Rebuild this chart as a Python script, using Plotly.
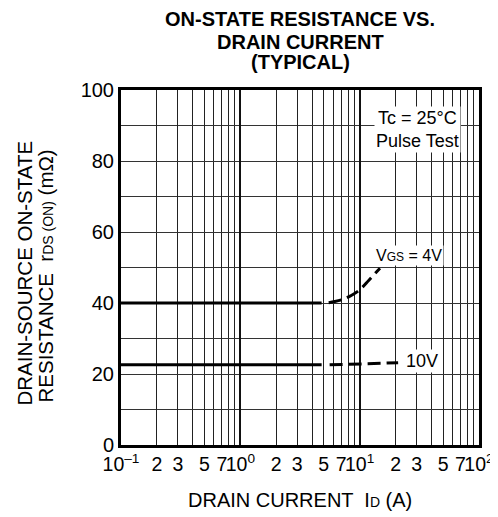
import plotly.graph_objects as go

# Data
vgs4_solid_x = [0.1, 4.8]
vgs4_solid_y = [40, 40]
vgs4_dash_x = [5.5, 6.2, 7.2, 8.5, 10, 12, 14.8]
vgs4_dash_y = [40.1, 40.4, 41.0, 42.1, 43.7, 46.5, 49.8]

vgs10_solid_x = [0.1, 4.8]
vgs10_solid_y = [22.6, 22.6]
vgs10_dash_x = [5.6, 8, 10, 15, 21]
vgs10_dash_y = [22.6, 22.7, 22.8, 23.0, 23.2]

x_tickvals = [0.1, 0.2, 0.3, 0.5, 0.7, 1, 2, 3, 5, 7, 10, 20, 30, 50, 70, 100]
x_ticktext = ["10<sup>–1</sup>", "2", "3", "5", "7", "10<sup>0</sup>", "2", "3", "5", "7",
              "10<sup>1</sup>", "2", "3", "5", "7", "10<sup>2</sup>"]
x_minor_vals = [0.4, 0.6, 0.8, 0.9, 4, 6, 8, 9, 40, 60, 80, 90]
x_decades = [1, 10]
y_tickvals = [0, 20, 40, 60, 80, 100]

title_lines = ["ON-STATE RESISTANCE VS.", "DRAIN CURRENT", "(TYPICAL)"]
ytitle_lines = ["DRAIN-SOURCE ON-STATE",
                "RESISTANCE  r<span style='font-size:14px'>DS (ON)</span> (mΩ)"]
xtitle = "DRAIN CURRENT  I<span style='font-size:14px'>D</span> (A)"

FONT = "Liberation Sans, Arial, sans-serif"
DASH = "13px,6px"

fig = go.Figure()
fig.add_trace(go.Scatter(x=vgs4_solid_x, y=vgs4_solid_y, mode="lines",
                         line=dict(color="black", width=3), showlegend=False))
fig.add_trace(go.Scatter(x=vgs4_dash_x, y=vgs4_dash_y, mode="lines", line_shape="spline",
                         line=dict(color="black", width=3, dash=DASH), showlegend=False))
fig.add_trace(go.Scatter(x=vgs10_solid_x, y=vgs10_solid_y, mode="lines",
                         line=dict(color="black", width=3), showlegend=False))
fig.add_trace(go.Scatter(x=vgs10_dash_x, y=vgs10_dash_y, mode="lines",
                         line=dict(color="black", width=3, dash=DASH), showlegend=False))
# invisible trace to activate the overlay axis used for decade grid lines
fig.add_trace(go.Scatter(x=[0.1, 100], y=[0, 0], xaxis="x2", mode="lines",
                         line=dict(width=0), hoverinfo="skip", showlegend=False))

fig.update_layout(
    width=498, height=517,
    margin=dict(l=113, r=27, t=82, b=80),
    paper_bgcolor="white", plot_bgcolor="white",
    font=dict(family=FONT, color="black"),
    xaxis=dict(type="log", range=[-1, 2], tickmode="array", tickvals=x_tickvals,
               ticktext=x_ticktext, tickangle=0, showgrid=True, gridcolor="#222", gridwidth=1,
               ticks="", tickfont=dict(size=19.5), showline=True, linecolor="black",
               linewidth=3, mirror=True, zeroline=False, automargin=False,
               minor=dict(tickmode="array", tickvals=x_minor_vals, showgrid=True,
                          gridcolor="#222", gridwidth=1, ticks="")),
    xaxis2=dict(type="log", range=[-1, 2], overlaying="x", tickmode="array",
                tickvals=x_decades, showticklabels=False, showgrid=True,
                gridcolor="#111", gridwidth=2, ticks="", zeroline=False, automargin=False),
    yaxis=dict(range=[0, 100], tickmode="array", tickvals=y_tickvals, showgrid=True,
               gridcolor="#333", gridwidth=1, ticks="", tickfont=dict(size=20),
               showline=True, linecolor="black", linewidth=3, mirror=True,
               zeroline=False, automargin=False,
               minor=dict(dtick=10, showgrid=True, gridcolor="#333", gridwidth=1, ticks="")),
)

for txt, yy in zip(title_lines, [1.1986, 1.1366, 1.0789]):
    fig.add_annotation(xref="paper", yref="paper", x=0.5, y=yy, xanchor="center",
                       yanchor="middle", showarrow=False, text="<b>" + txt + "</b>",
                       font=dict(size=20, family=FONT))

for txt, xx, yy in zip(ytitle_lines, [-0.2696, -0.2109], [0.4845, 0.476]):
    fig.add_annotation(xref="paper", yref="paper", x=xx, y=yy, xanchor="center",
                       yanchor="middle", textangle=-90, showarrow=False, text=txt,
                       font=dict(size=20.5))

fig.add_annotation(xref="paper", yref="paper", x=0.5, y=-0.155, xanchor="center", yanchor="middle",
                   showarrow=False, font=dict(size=20), text=xtitle)

fig.add_annotation(xref="paper", yref="paper", x=0.827, y=0.89, xanchor="center", yanchor="middle",
                   text="Tc = 25°C<br>Pulse Test", showarrow=False, bgcolor="white",
                   font=dict(size=18), align="center")
fig.add_annotation(xref="paper", yref="paper", x=0.805, y=0.535, xanchor="center", yanchor="middle",
                   text="V<span style='font-size:12px'>GS</span> = 4V", showarrow=False, bgcolor="white",
                   font=dict(size=16))
fig.add_annotation(xref="paper", yref="paper", x=0.84, y=0.2366, xanchor="center", yanchor="middle",
                   text="10V", showarrow=False, bgcolor="white", font=dict(size=18))

fig.write_html("out.html")
